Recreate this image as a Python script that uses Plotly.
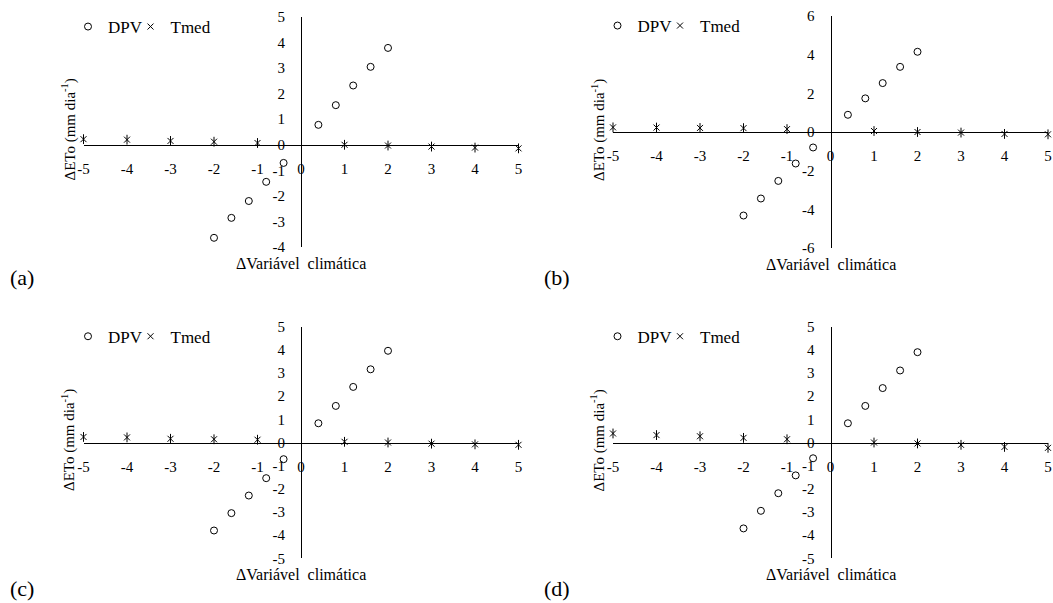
import plotly.graph_objects as go

W, H = 1053, 603
OFF = 0  # body margin removed below

x_dpv = [-2.0, -1.6, -1.2, -0.8, -0.4, 0.4, 0.8, 1.2, 1.6, 2.0]
x_tmed = [-5, -4, -3, -2, -1, 1, 2, 3, 4, 5]

dpv_a = [-3.64, -2.86, -2.20, -1.45, -0.71, 0.78, 1.55, 2.32, 3.05, 3.79]
tmed_a = [0.22, 0.20, 0.15, 0.12, 0.07, 0.0, -0.03, -0.07, -0.11, -0.14]

dpv_b = [-4.32, -3.44, -2.53, -1.63, -0.80, 0.89, 1.74, 2.53, 3.37, 4.15]
tmed_b = [0.24, 0.23, 0.21, 0.20, 0.15, 0.05, 0.0, -0.03, -0.10, -0.12]

dpv_c = [-3.80, -3.05, -2.29, -1.54, -0.72, 0.83, 1.58, 2.40, 3.16, 3.96]
tmed_c = [0.24, 0.22, 0.16, 0.14, 0.12, 0.03, 0.0, -0.05, -0.08, -0.10]

dpv_d = [-3.71, -2.95, -2.19, -1.42, -0.68, 0.83, 1.58, 2.35, 3.11, 3.90]
tmed_d = [0.39, 0.32, 0.27, 0.20, 0.14, 0.0, -0.04, -0.10, -0.19, -0.23]

x_ticks = [-5, -4, -3, -2, -1, 0, 1, 2, 3, 4, 5]
y_ticks_a = [-4, -3, -2, -1, 0, 1, 2, 3, 4, 5]
y_ticks_b = [-6, -4, -2, 0, 2, 4, 6]
y_ticks_c = [-5, -4, -3, -2, -1, 0, 1, 2, 3, 4, 5]
y_ticks_d = [-5, -4, -3, -2, -1, 0, 1, 2, 3, 4, 5]

labels = ["(a)", "(b)", "(c)", "(d)"]

FONT = "Liberation Serif"


def px_x(X):
    return (X - OFF) / W


def px_y(Y):
    return 1 - (Y - OFF) / H


panels = [
    # dpv, tmed, yticks, x-domain px, y-domain px (top, bottom), label pos
    (dpv_a, tmed_a, y_ticks_a, (83.5, 518.5), (17, 247), (22, 277)),
    (dpv_b, tmed_b, y_ticks_b, (613, 1048), (16, 248), (557, 277)),
    (dpv_c, tmed_c, y_ticks_c, (83.5, 518.5), (326.7, 558.3), (22, 588)),
    (dpv_d, tmed_d, y_ticks_d, (613, 1048), (326.7, 558.3), (557, 588)),
]


def fmt(v):
    return ("-" if v < 0 else "") + str(abs(v))


fig = go.Figure()
annotations = []
for i, (dpv, tmed, yt, (px0, px1), (pyt, pyb), (lx, ly)) in enumerate(panels):
    n = i + 1
    xa = "x" if n == 1 else f"x{n}"
    ya = "y" if n == 1 else f"y{n}"
    lg1 = "legend" if n == 1 else f"legend{2 * n - 1}"
    lg2 = f"legend{2 * n}"
    xd = [px_x(px0), px_x(px1)]
    yd = [px_y(pyb), px_y(pyt)]
    ymin, ymax = min(yt), max(yt)
    xmin, xmax = min(x_ticks), max(x_ticks)
    ypos0 = yd[0] + (0 - ymin) / (ymax - ymin) * (yd[1] - yd[0])
    xpos0 = xd[0] + (0 - xmin) / (xmax - xmin) * (xd[1] - xd[0])

    fig.add_trace(go.Scatter(
        x=x_dpv, y=dpv, mode="markers", name="DPV", xaxis=xa, yaxis=ya,
        legend=lg1, cliponaxis=False,
        marker=dict(symbol="circle-open", size=7, color="black", line=dict(width=1, color="black")),
    ))
    fig.add_trace(go.Scatter(
        x=x_tmed, y=tmed, mode="markers", name="Tmed", xaxis=xa, yaxis=ya,
        legend=lg2, cliponaxis=False,
        marker=dict(symbol="x-thin-open", size=6, color="black", line=dict(width=1, color="black")),
    ))
    fig.add_trace(go.Scatter(
        x=x_tmed, y=tmed, mode="markers", name="Tmed", xaxis=xa, yaxis=ya,
        showlegend=False, cliponaxis=False, hoverinfo="skip",
        marker=dict(symbol="line-ns-open", size=7, color="black", line=dict(width=1, color="black")),
    ))

    xkey = "xaxis" if n == 1 else f"xaxis{n}"
    ykey = "yaxis" if n == 1 else f"yaxis{n}"
    legend_common = dict(
        y=px_y(pyt + 10), xanchor="left", yanchor="middle",
        orientation="h", bgcolor="rgba(0,0,0,0)", itemwidth=30,
        font=dict(family=FONT, size=17, color="black"), itemclick=False,
    )
    fig.update_layout(**{
        xkey: dict(
            domain=xd, range=[xmin, xmax], anchor="free", position=ypos0,
            showline=True, linecolor="black", linewidth=1, showgrid=False,
            zeroline=False, ticks="", tickvals=x_ticks,
            ticktext=[fmt(v) for v in x_ticks], ticklabelstandoff=10,
            ticklabeloverflow="allow",
            tickfont=dict(family=FONT, size=15, color="black"),
        ),
        ykey: dict(
            domain=yd, range=[ymin, ymax], anchor="free", position=xpos0,
            showline=True, linecolor="black", linewidth=1, showgrid=False,
            zeroline=False, ticks="", tickvals=yt,
            ticktext=[fmt(v) for v in yt], ticklabelstandoff=13,
            tickfont=dict(family=FONT, size=15, color="black"),
        ),
        lg1: dict(x=px_x(px0 + 4.5 - 20), **legend_common),
        lg2: dict(x=px_x(px0 + 67 - 20), **legend_common),
    })

    xc = (px0 + px1) / 2
    annotations.append(dict(
        text="ΔVariável \u00a0climática", x=px_x(xc), y=px_y(pyb + 16),
        xref="paper", yref="paper", showarrow=False, xanchor="center", yanchor="middle",
        font=dict(family=FONT, size=16, color="black"),
    ))
    annotations.append(dict(
        text="ΔETo (mm dia<sup>-1</sup>)", x=px_x(px0 - 15), y=px_y((pyt + pyb) / 2 - 2),
        xref="paper", yref="paper", showarrow=False, xanchor="center", yanchor="middle",
        textangle=-90, font=dict(family=FONT, size=15, color="black"),
    ))
    annotations.append(dict(
        text=labels[i], x=px_x(lx), y=px_y(ly),
        xref="paper", yref="paper", showarrow=False, xanchor="center", yanchor="middle",
        font=dict(family=FONT, size=22, color="black"),
    ))

fig.update_layout(
    width=W, height=H, margin=dict(l=0, r=0, t=0, b=0, autoexpand=False),
    paper_bgcolor="white", plot_bgcolor="white",
    font=dict(family=FONT, size=15, color="black"),
    annotations=annotations, showlegend=True,
)

fig.write_html(
    "out.html",
    config={"displayModeBar": False},
    post_script="document.body.style.margin='0';document.body.style.overflow='hidden';",
)
